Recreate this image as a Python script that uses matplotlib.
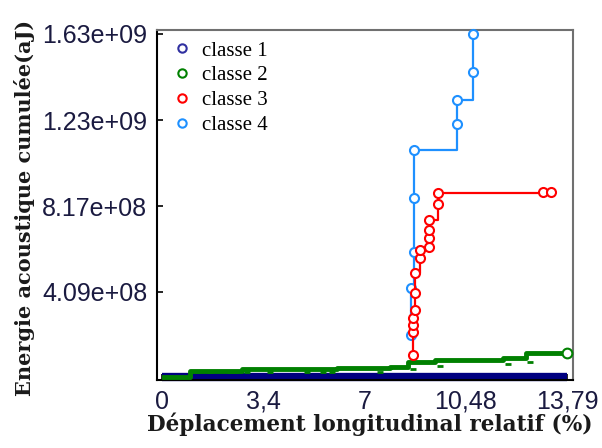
import matplotlib
matplotlib.use("Agg")
import matplotlib.pyplot as plt
from matplotlib.lines import Line2D
import numpy as np

# ---- data (x in %, y in aJ) ----
c1_x = [0.0, 13.79]
c1_y = [0.07e8, 0.07e8]

c2_x = [0.10, 0.50, 0.97, 2.72, 5.95, 7.76, 8.37, 9.29, 11.60, 12.40, 13.76]
c2_y = [0.05e8, 0.05e8, 0.35e8, 0.43e8, 0.47e8, 0.52e8, 0.74e8, 0.85e8, 0.96e8, 1.17e8, 1.17e8]

c2_low_x = [1.19, 1.64, 2.32, 2.49, 2.89, 3.68, 4.93, 5.49, 5.78, 7.42, 8.55, 9.46, 11.77, 12.52]
c2_low_y = [0.30e8, 0.30e8, 0.30e8, 0.30e8, 0.30e8, 0.30e8, 0.30e8, 0.30e8, 0.30e8, 0.30e8,
            0.41e8, 0.57e8, 0.67e8, 0.77e8]

c3_x = [8.55, 8.55, 8.55, 8.55, 8.62, 8.62, 8.62, 8.78, 8.78, 9.09, 9.09, 9.09, 9.09,
        9.40, 9.40, 12.95, 13.22]
c3_y = [1.09e8, 2.20e8, 2.52e8, 2.85e8, 3.23e8, 4.03e8, 4.99e8, 5.70e8, 6.08e8, 6.24e8,
        6.65e8, 7.03e8, 7.51e8, 8.27e8, 8.78e8, 8.83e8, 8.83e8]

c4_x = [8.47, 8.47, 8.59, 8.59, 8.59, 10.03, 10.03, 10.57, 10.57]
c4_y = [2.04e8, 4.28e8, 5.97e8, 8.54e8, 10.84e8, 12.07e8, 13.20e8, 14.53e8, 16.35e8]

x_ticks = [0, 13.79 / 4, 13.79 / 2, 3 * 13.79 / 4, 13.79]
x_labels = ["0", "3,4", "7", "10,48", "13,79"]
y_ticks = [4.09e8, 8.17e8, 1.226e9, 1.635e9]
y_labels = ["4.09e+08", "8.17e+08", "1.23e+09", "1.63e+09"]
legend_labels = ["classe 1", "classe 2", "classe 3", "classe 4"]

col1, col2, col3, col4 = "#000080", "#008000", "#ff0000", "#1e90ff"

fig = plt.figure(figsize=(6.02, 4.48), dpi=100)
ax = fig.add_axes([157 / 602, 1 - 380 / 448, (573 - 157) / 602, (380 - 30) / 448])

ax.plot(c1_x, c1_y, color=col1, lw=6, solid_capstyle="butt", clip_on=False, zorder=2)
ax.plot(c2_x, c2_y, color=col2, lw=3.5, drawstyle="steps-post", zorder=3)
ax.plot(c2_low_x, c2_low_y, ls="none", marker="_", ms=5, mew=2, color=col2, zorder=3)
ax.plot(c2_x[-1:], c2_y[-1:], ls="none", marker="o", ms=7, mew=1.5, mfc="white", color=col2, zorder=4)
ax.plot(c4_x, c4_y, color=col4, lw=1.6, drawstyle="steps-post", zorder=4)
ax.plot(c4_x, c4_y, ls="none", marker="o", ms=6.5, mew=1.5, mfc="white", color=col4, zorder=4, clip_on=False)
ax.plot(c3_x, c3_y, color=col3, lw=1.6, drawstyle="steps-post", zorder=5)
ax.plot(c3_x, c3_y, ls="none", marker="o", ms=6.5, mew=1.5, mfc="white", color=col3, zorder=5)

ax.set_xlim(-0.153, 13.98)
ax.set_ylim(-0.095e8, 16.54e8)
ax.set_xticks(x_ticks)
ax.set_xticklabels(x_labels)
ax.set_yticks(y_ticks)
ax.set_yticklabels(y_labels)
ax.tick_params(direction="in", length=4, width=1.2, labelsize=18, pad=7)
for lab in ax.get_xticklabels() + ax.get_yticklabels():
    lab.set_fontfamily("Liberation Sans")
    lab.set_color("#1a1a40")

for s in ["top", "right"]:
    ax.spines[s].set_color("#707070")
    ax.spines[s].set_linewidth(1.5)
ax.spines["left"].set_linewidth(1.5)
ax.spines["bottom"].set_linewidth(1.5)

handles = [Line2D([], [], ls="none", marker="o", ms=6, mew=1.5, mfc="white", color=c)
           for c in ["#3030a0", col2, col3, col4]]
leg = ax.legend(handles, legend_labels, loc="upper left", bbox_to_anchor=(-0.005, 1.01),
                frameon=False, prop={"family": "Liberation Serif", "size": 15},
                labelspacing=0.25, handletextpad=0.35, borderaxespad=0.3, handlelength=1.2)

fig.text(25 / 602, 1 - 208 / 448, "Energie acoustique cumulée(aJ)", rotation=90,
         ha="center", va="center", fontsize=15, fontweight="bold", family="DejaVu Serif",
         color="#1a1a1a")
fig.text(370 / 602, 1 - 424 / 448, "Déplacement longitudinal relatif (%)",
         ha="center", va="center", fontsize=15.6, fontweight="bold", family="DejaVu Serif",
         color="#1a1a1a")

fig.savefig("out.png", dpi=100)
